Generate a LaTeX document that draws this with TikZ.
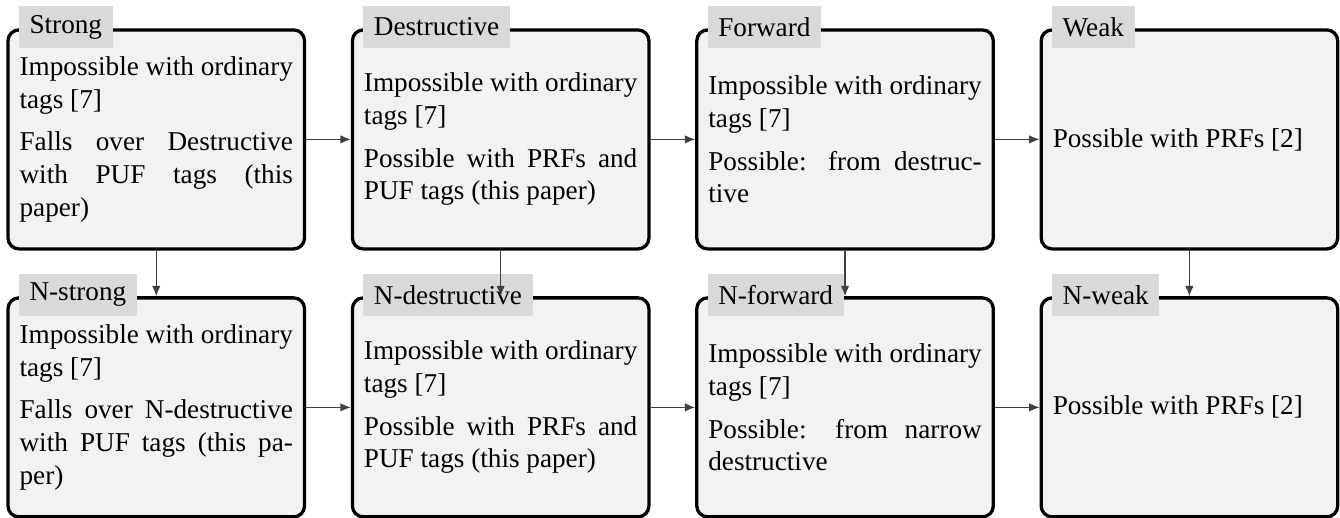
\documentclass[tikz,border=0pt]{standalone}
\usepackage{fontspec}
\setmainfont{Liberation Serif}
\usetikzlibrary{positioning, arrows.meta}

\begin{document}
\begin{tikzpicture}[auto, node distance=16.8pt and 16.4pt, >={Latex[length=3.8pt, width=3.1pt]}]
  \tikzstyle{notion} = [draw, line width=1.2pt, rectangle, rounded corners=4pt, fill=gray!10, minimum width=109pt, minimum height=80.5pt, text width=100.5pt, align=justify, inner sep=0pt]
  \tikzstyle{head} = [fill=gray!30, inner xsep=3.9pt, minimum height=15.6pt, anchor=west]
  \tikzstyle{link} = [->, draw=black!75, line width=0.45pt]
  \useasboundingbox (0,0) rectangle (492.6pt,-190.1pt);

  \node [notion] (strong) at (57.45pt,-51.25pt) {Impossible with ordinary\linebreak tags [7]\par\vspace{3.7pt}Falls over Destructive\linebreak with PUF tags (this\linebreak paper)};
  \node [notion, right=of strong] (destr) {Impossible with ordinary\linebreak tags [7]\par\vspace{3.7pt}Possible with PRFs and\linebreak PUF tags (this paper)};
  \node [notion, right=of destr] (forward) {Impossible with ordinary\linebreak tags [7]\par\vspace{3.7pt}Possible: from destruc-\linebreak tive};
  \node [notion, right=of forward] (weak) {Possible with PRFs [2]};
  \node [notion, below=of strong] (nstrong) {Impossible with ordinary\linebreak tags [7]\par\vspace{3.7pt}Falls over N-destructive\linebreak with PUF tags (this pa-\linebreak per)};
  \node [notion, below=of destr] (ndestr) {Impossible with ordinary\linebreak tags [7]\par\vspace{3.7pt}Possible with PRFs and\linebreak PUF tags (this paper)};
  \node [notion, below=of forward] (nforward) {Impossible with ordinary\linebreak tags [7]\par\vspace{3.7pt}Possible: from narrow\linebreak destructive};
  \node [notion, below=of weak] (nweak) {Possible with PRFs [2]};

  % headings on the top border
  \foreach \n/\t in {strong/Strong, destr/Destructive, forward/Forward, weak/Weak, nstrong/N-strong, ndestr/N-destructive, nforward/N-forward, nweak/N-weak}
    \node [head] (\n-h) at ([xshift=4.4pt, yshift=0.5pt]\n.north west) {\t};

  \draw [link] (strong) -- (destr);
  \draw [link] (destr) -- (forward);
  \draw [link] (forward) -- (weak);
  \draw [link] (nstrong) -- (ndestr);
  \draw [link] (ndestr) -- (nforward);
  \draw [link] (nforward) -- (nweak);
  \draw [link] (strong) -- (nstrong);
  \draw [link] (destr) -- (ndestr);
  \draw [link] (forward) -- (nforward);
  \draw [link] (weak) -- (nweak);
\end{tikzpicture}
\end{document}
